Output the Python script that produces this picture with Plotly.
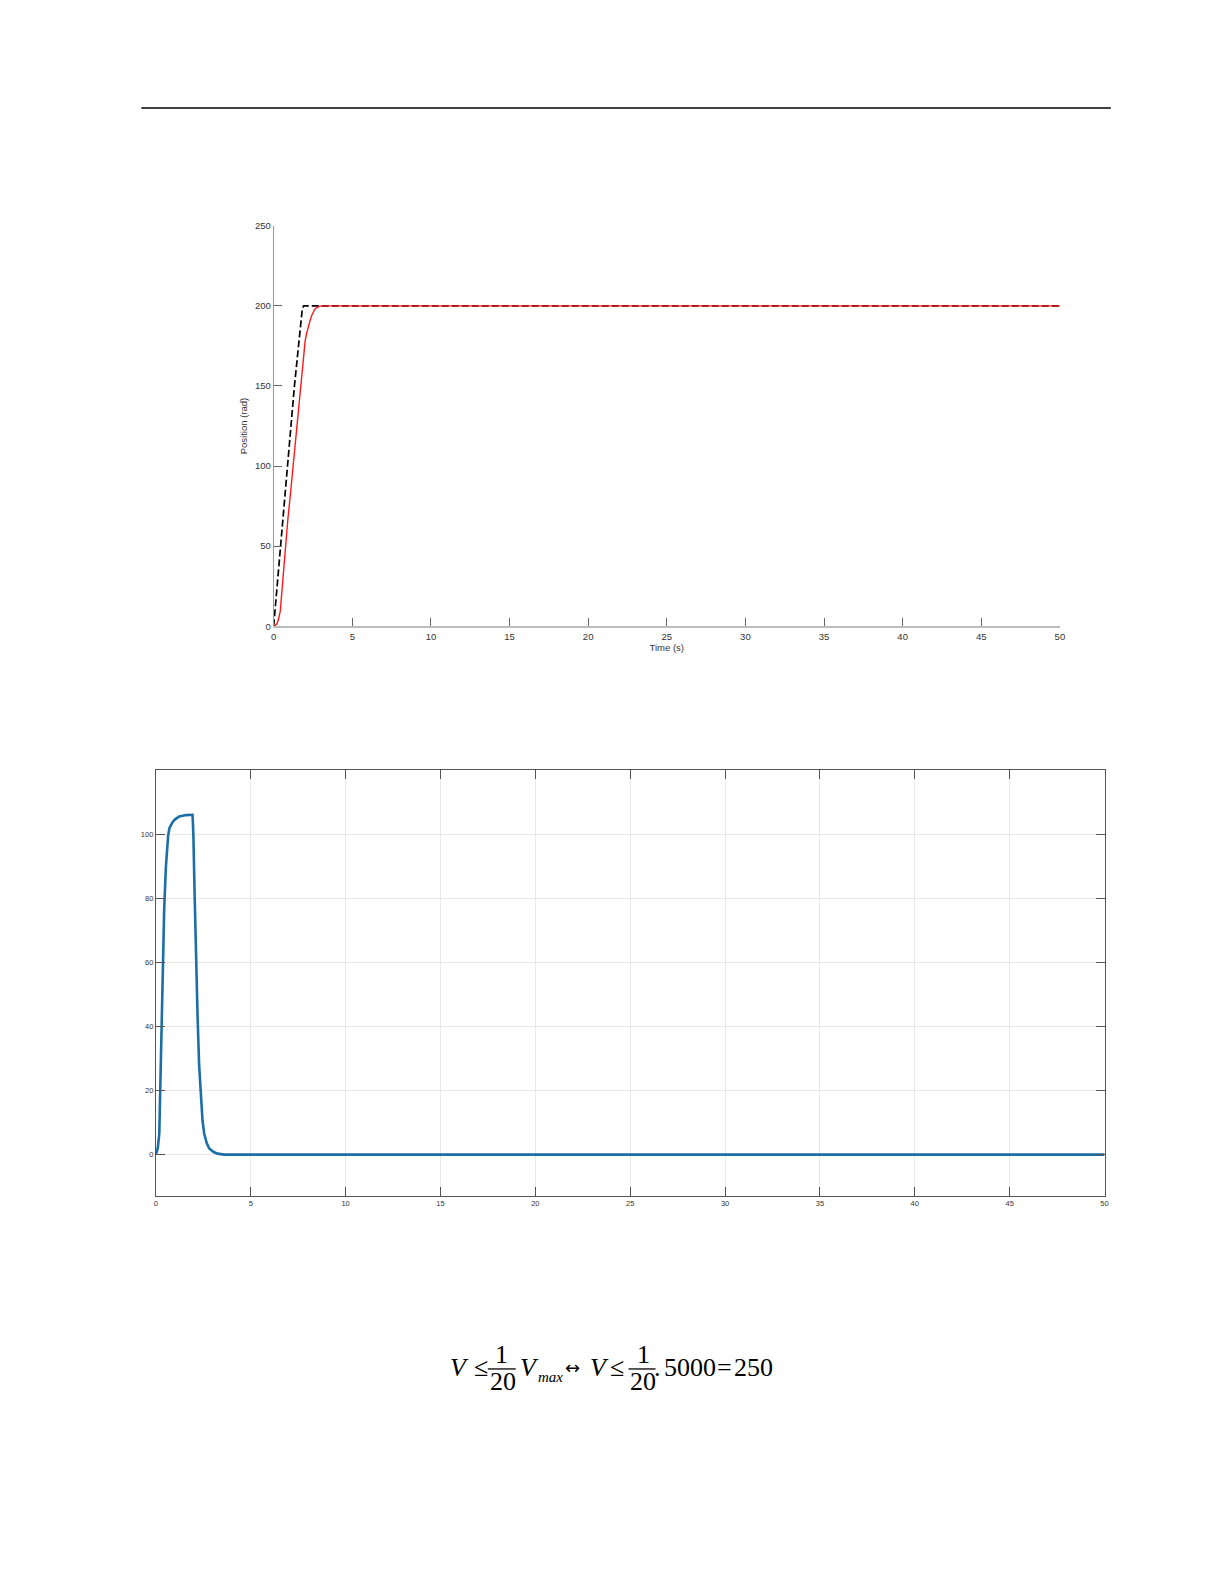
import plotly.graph_objects as go

W, H = 1225, 1585

# ---- Chart 1 data (position) ----
ref_t = [0, 0.45, 0.88, 1.32, 1.82, 1.9, 50]
ref_pos = [0, 50, 100, 150, 198, 200, 200]
out_t = [0, 0.1, 0.2, 0.3, 0.42, 0.55, 0.74, 0.9, 1.06, 1.27, 1.48, 1.7, 1.9, 2.0, 2.1, 2.2,
         2.32, 2.42, 2.5, 2.62, 2.75, 2.9, 3.1, 50]
out_pos = [0, 0.3, 1.5, 4, 9.4, 25, 51, 66.5, 82, 104, 126, 149, 172, 178, 183, 187.5,
           191, 194, 196, 198, 199, 199.7, 200, 200]
x1_ticks = [0, 5, 10, 15, 20, 25, 30, 35, 40, 45, 50]
y1_ticks = [0, 50, 100, 150, 200, 250]

# ---- Chart 2 data (velocity) ----
vel_t = [0, 0.1, 0.18, 0.27, 0.35, 0.44, 0.53, 0.6, 0.65, 0.72, 0.8, 0.88, 1.0, 1.23, 1.6,
         1.93, 1.95, 1.98, 2.04, 2.11, 2.2, 2.28, 2.37, 2.46, 2.55, 2.68, 2.81, 3.05, 3.25,
         3.6, 50]
vel = [0, 2, 6.5, 30, 58, 77, 90, 96, 99.7, 102, 103.2, 103.8, 104.6, 105.6, 106,
       106.1, 104, 99, 82, 63, 42.7, 28, 16.9, 10.5, 6.5, 3.6, 1.9, 0.8, 0.3,
       0, 0]
x2_ticks = [0, 5, 10, 15, 20, 25, 30, 35, 40, 45, 50]
y2_ticks = [0, 20, 40, 60, 80, 100]


# page-pixel -> paper fraction (with empirical correction of the render offset)
def px(x):
    return ((x - 8.4) / 0.9951) / W


def py(y):
    return 1 - ((y - 11.8) / 0.9947) / H


fig = go.Figure()

fig.add_trace(go.Scatter(x=ref_t, y=ref_pos, mode="lines",
                         line=dict(color="black", width=1.7, dash="7px,3px"),
                         xaxis="x", yaxis="y", showlegend=False))
fig.add_trace(go.Scatter(x=out_t, y=out_pos, mode="lines",
                         line=dict(color="#ff1a1a", width=1.4),
                         xaxis="x", yaxis="y", showlegend=False))
fig.add_trace(go.Scatter(x=vel_t, y=vel, mode="lines",
                         line=dict(color="#1b6ea6", width=2.6),
                         xaxis="x2", yaxis="y2", showlegend=False))

axfont1 = dict(family="Liberation Sans, Arial, sans-serif", size=9.5, color="#333")
axfont2 = dict(family="Liberation Sans, Arial, sans-serif", size=7.5, color="#333")

fig.update_layout(
    width=W, height=H, autosize=False,
    margin=dict(l=0, r=0, t=0, b=0),
    paper_bgcolor="white", plot_bgcolor="white",
    xaxis=dict(domain=[px(271.5), px(1059)], anchor="y", range=[0, 50],
               tickvals=x1_ticks, ticks="inside", ticklen=8, tickcolor="#666", tickwidth=1,
               showline=True, linecolor="#bdbdbd", linewidth=2, showgrid=False, zeroline=False,
               tickfont=axfont1, title=dict(text="Time (s)", font=axfont1, standoff=1)),
    yaxis=dict(domain=[py(625), py(224)], anchor="x", range=[0, 250],
               tickvals=y1_ticks, ticks="inside", ticklen=8, tickcolor="#666", tickwidth=1,
               showline=True, linecolor="#9a9a9a", linewidth=1, showgrid=False, zeroline=False,
               tickfont=axfont1, title=dict(text="Position (rad)", font=axfont1, standoff=5)),
    xaxis2=dict(domain=[px(153.5), px(1103.7)], anchor="y2", range=[0, 50],
                tickvals=x2_ticks, ticks="inside", ticklen=9, tickcolor="#555", tickwidth=1,
                showline=True, linecolor="#555", linewidth=1, mirror="ticks",
                showgrid=True, gridcolor="#e8e8e8", gridwidth=1, zeroline=False,
                tickfont=axfont2),
    yaxis2=dict(domain=[py(1196), py(769.3)], anchor="x2", range=[-13, 120],
                tickvals=y2_ticks, ticks="inside", ticklen=9, tickcolor="#555", tickwidth=1,
                showline=True, linecolor="#555", linewidth=1, mirror="ticks",
                showgrid=True, gridcolor="#e8e8e8", gridwidth=1, zeroline=False,
                tickfont=axfont2),
)

# header rule
fig.add_shape(type="line", xref="paper", yref="paper",
              x0=px(139), x1=px(1110), y0=py(106), y1=py(106),
              line=dict(color="black", width=1.5))

# formula
serif = "Liberation Serif, Times New Roman, serif"
big = dict(family=serif, size=26, color="black")
small = dict(family=serif, size=15, color="black")
yl = 1368
ynum = 1355
yden = 1382
ybar = 1369
items = [
    ("<i>V</i>", 458, yl, big),
    ("≤", 479, yl, big),
    ("1", 500, ynum, big),
    ("20", 501, yden, big),
    ("<i>V</i>", 528, yl, big),
    ("<i>max</i>", 549, 1377, small),
    ("↔", 571, yl, dict(family="DejaVu Sans, sans-serif", size=18, color="black")),
    ("<i>V</i>", 597.5, yl, big),
    ("≤", 615, yl, big),
    ("1", 642, ynum, big),
    ("20", 641, yden, big),
    (".", 656, yl, big),
    ("5000", 688.5, yl, big),
    ("=", 723, yl, big),
    ("250", 752, yl, big),
]
for txt, x, y, f in items:
    fig.add_annotation(text=txt, x=px(x), y=py(y), xref="paper", yref="paper",
                       showarrow=False, font=f, xanchor="center", yanchor="middle")
for x0, x1 in [(486, 514), (627, 654)]:
    fig.add_shape(type="line", xref="paper", yref="paper",
                  x0=px(x0), x1=px(x1), y0=py(ybar), y1=py(ybar),
                  line=dict(color="black", width=1.3))

fig.write_html("out.html")
